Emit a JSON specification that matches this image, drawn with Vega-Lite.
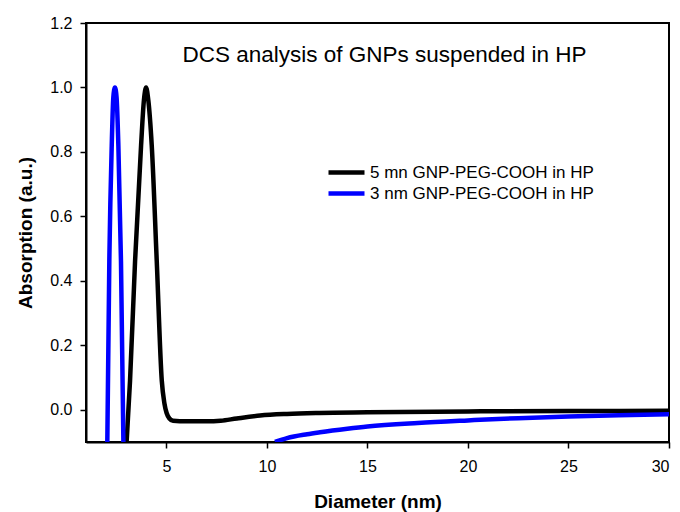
{
  "$schema": "https://vega.github.io/schema/vega-lite/v6.json",
  "autosize": {"type": "none"},
  "padding": {"left": 86, "top": 23, "right": 11, "bottom": 70},
  "width": 583,
  "height": 419,
  "background": "white",
  "title": {
    "text": "DCS analysis of GNPs suspended in HP",
    "font": "Liberation Sans",
    "fontSize": 22.5,
    "fontWeight": "normal",
    "color": "black",
    "anchor": "middle",
    "frame": "group",
    "baseline": "alphabetic",
    "offset": 0,
    "dy": 69,
    "dx": 7
  },
  "data": {
    "values": [
      {"series": "5 mn GNP-PEG-COOH in HP", "part": "a", "x": 3.02, "y": -0.1},
      {"series": "5 mn GNP-PEG-COOH in HP", "part": "a", "x": 3.19, "y": 0.09},
      {"series": "5 mn GNP-PEG-COOH in HP", "part": "a", "x": 3.44, "y": 0.46},
      {"series": "5 mn GNP-PEG-COOH in HP", "part": "a", "x": 3.74, "y": 0.82},
      {"series": "5 mn GNP-PEG-COOH in HP", "part": "a", "x": 3.88, "y": 0.96},
      {"series": "5 mn GNP-PEG-COOH in HP", "part": "a", "x": 3.99, "y": 1.0},
      {"series": "5 mn GNP-PEG-COOH in HP", "part": "a", "x": 4.1, "y": 0.96},
      {"series": "5 mn GNP-PEG-COOH in HP", "part": "a", "x": 4.27, "y": 0.82},
      {"series": "5 mn GNP-PEG-COOH in HP", "part": "a", "x": 4.52, "y": 0.46},
      {"series": "5 mn GNP-PEG-COOH in HP", "part": "a", "x": 4.77, "y": 0.09},
      {"series": "5 mn GNP-PEG-COOH in HP", "part": "a", "x": 4.9, "y": 0.02},
      {"series": "5 mn GNP-PEG-COOH in HP", "part": "a", "x": 5.01, "y": -0.01},
      {"series": "5 mn GNP-PEG-COOH in HP", "part": "a", "x": 5.15, "y": -0.027},
      {"series": "5 mn GNP-PEG-COOH in HP", "part": "a", "x": 5.33, "y": -0.034},
      {"series": "5 mn GNP-PEG-COOH in HP", "part": "a", "x": 6.0, "y": -0.036},
      {"series": "5 mn GNP-PEG-COOH in HP", "part": "a", "x": 7.0, "y": -0.036},
      {"series": "5 mn GNP-PEG-COOH in HP", "part": "a", "x": 7.7, "y": -0.034},
      {"series": "5 mn GNP-PEG-COOH in HP", "part": "a", "x": 8.5, "y": -0.027},
      {"series": "5 mn GNP-PEG-COOH in HP", "part": "a", "x": 9.66, "y": -0.018},
      {"series": "5 mn GNP-PEG-COOH in HP", "part": "a", "x": 11.0, "y": -0.013},
      {"series": "5 mn GNP-PEG-COOH in HP", "part": "a", "x": 12.6, "y": -0.01},
      {"series": "5 mn GNP-PEG-COOH in HP", "part": "a", "x": 15.0, "y": -0.008},
      {"series": "5 mn GNP-PEG-COOH in HP", "part": "a", "x": 20.0, "y": -0.005},
      {"series": "5 mn GNP-PEG-COOH in HP", "part": "a", "x": 25.0, "y": -0.004},
      {"series": "5 mn GNP-PEG-COOH in HP", "part": "a", "x": 30.0, "y": -0.003},
      {"series": "3 nm GNP-PEG-COOH in HP", "part": "b", "x": 2.06, "y": -0.1},
      {"series": "3 nm GNP-PEG-COOH in HP", "part": "b", "x": 2.16, "y": 0.46},
      {"series": "3 nm GNP-PEG-COOH in HP", "part": "b", "x": 2.28, "y": 0.82},
      {"series": "3 nm GNP-PEG-COOH in HP", "part": "b", "x": 2.36, "y": 0.97},
      {"series": "3 nm GNP-PEG-COOH in HP", "part": "b", "x": 2.44, "y": 1.0},
      {"series": "3 nm GNP-PEG-COOH in HP", "part": "b", "x": 2.52, "y": 0.97},
      {"series": "3 nm GNP-PEG-COOH in HP", "part": "b", "x": 2.61, "y": 0.82},
      {"series": "3 nm GNP-PEG-COOH in HP", "part": "b", "x": 2.74, "y": 0.46},
      {"series": "3 nm GNP-PEG-COOH in HP", "part": "b", "x": 2.86, "y": -0.1},
      {"series": "3 nm GNP-PEG-COOH in HP", "part": "c", "x": 10.4, "y": -0.1},
      {"series": "3 nm GNP-PEG-COOH in HP", "part": "c", "x": 11.0, "y": -0.088},
      {"series": "3 nm GNP-PEG-COOH in HP", "part": "c", "x": 12.0, "y": -0.076},
      {"series": "3 nm GNP-PEG-COOH in HP", "part": "c", "x": 12.64, "y": -0.07},
      {"series": "3 nm GNP-PEG-COOH in HP", "part": "c", "x": 14.0, "y": -0.059},
      {"series": "3 nm GNP-PEG-COOH in HP", "part": "c", "x": 15.0, "y": -0.052},
      {"series": "3 nm GNP-PEG-COOH in HP", "part": "c", "x": 17.5, "y": -0.041},
      {"series": "3 nm GNP-PEG-COOH in HP", "part": "c", "x": 20.0, "y": -0.033},
      {"series": "3 nm GNP-PEG-COOH in HP", "part": "c", "x": 22.5, "y": -0.026},
      {"series": "3 nm GNP-PEG-COOH in HP", "part": "c", "x": 25.0, "y": -0.021},
      {"series": "3 nm GNP-PEG-COOH in HP", "part": "c", "x": 27.5, "y": -0.017},
      {"series": "3 nm GNP-PEG-COOH in HP", "part": "c", "x": 30.0, "y": -0.014}
    ]
  },
  "mark": {"type": "line", "clip": true, "interpolate": "monotone", "strokeWidth": 4.5, "strokeJoin": "round", "strokeCap": "butt"},
  "encoding": {
    "x": {
      "field": "x", "type": "quantitative",
      "scale": {"domain": [1, 30], "nice": false, "zero": false},
      "axis": {"values": [5, 10, 15, 20, 25, 30], "title": "Diameter (nm)", "labelPadding": 10, "titlePadding": 18}
    },
    "y": {
      "field": "y", "type": "quantitative",
      "scale": {"domain": [-0.1, 1.2], "nice": false, "zero": false},
      "axis": {"values": [0, 0.2, 0.4, 0.6, 0.8, 1.0, 1.2], "format": ".1f", "title": "Absorption (a.u.)", "labelPadding": 8, "titlePadding": 14}
    },
    "color": {
      "field": "series", "type": "nominal",
      "scale": {"domain": ["5 mn GNP-PEG-COOH in HP", "3 nm GNP-PEG-COOH in HP"], "range": ["#000000", "#0000ff"]},
      "legend": {"title": null}
    },
    "detail": {"field": "part", "type": "nominal"}
  },
  "config": {
    "font": "Liberation Sans",
    "view": {"stroke": "black", "strokeWidth": 2},
    "axis": {
      "grid": false,
      "domainColor": "black",
      "domainWidth": 2,
      "tickColor": "black",
      "tickWidth": 1.5,
      "tickSize": 6,
      "labelFont": "Liberation Sans",
      "labelFontSize": 16,
      "labelColor": "black",
      "titleFont": "Liberation Sans",
      "titleFontSize": 19,
      "titleFontWeight": "bold",
      "titleColor": "black"
    },
    "legend": {
      "orient": "none",
      "legendX": 252,
      "legendY": 141,
      "padding": 0,
      "symbolType": "M-3,0H3",
      "symbolSize": 144,
      "symbolStrokeWidth": 4.5,
      "labelFont": "Liberation Sans",
      "labelFontSize": 17,
      "labelColor": "black",
      "labelOffset": 15,
      "labelLimit": 400,
      "rowPadding": 2
    }
  }
}
